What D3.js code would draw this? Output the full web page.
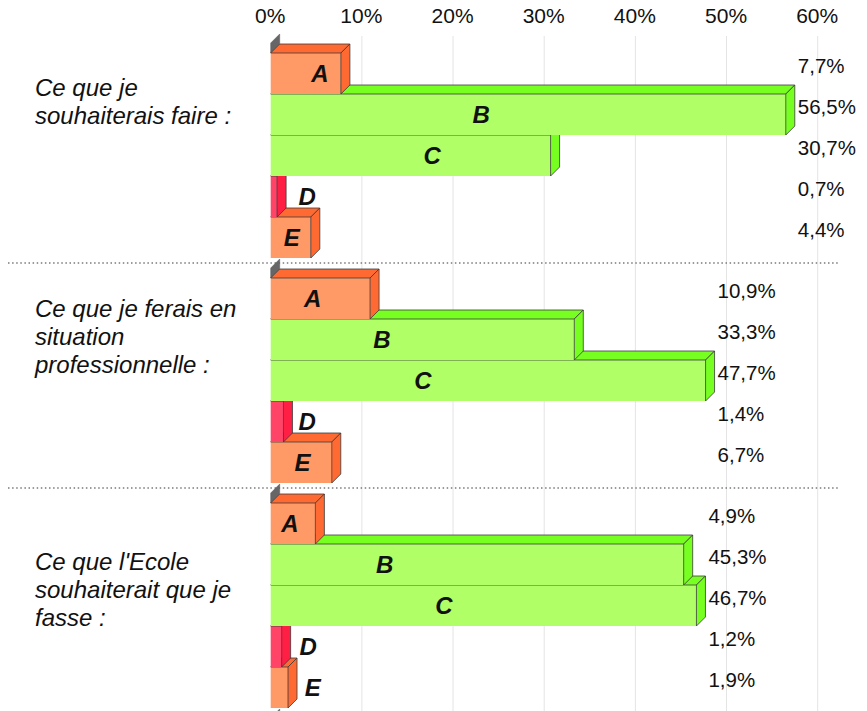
<!DOCTYPE html>
<html lang="fr">
<head>
<meta charset="UTF-8">
<script src="https://cdn.jsdelivr.net/npm/d3@7"></script>
<title>Réponses A-E</title>
<style>
  body { margin: 0; background: #fff; }
  svg text { font-family: "Liberation Sans", Arial, sans-serif; fill: #111; }
</style>
</head>
<body>
<svg id="chart" width="867" height="711"></svg>
<script>
// categories (one label per line)
var groups = [
    ["Ce que je", "souhaiterais faire :"],
    ["Ce que je ferais en", "situation", "professionnelle :"],
    ["Ce que l'Ecole", "souhaiterait que je", "fasse :"]
];
var series = ["A", "B", "C", "D", "E"];
// values in %, one array per answer, one entry per group
var valA = [7.7, 10.9, 4.9];
var valB = [56.5, 33.3, 45.3];
var valC = [30.7, 47.7, 46.7];
var valD = [0.7, 1.4, 1.2];
var valE = [4.4, 6.7, 1.9];
// where the letter sits on each bar, in % on the same axis
var letterA = [5.4, 4.6, 2.1];
var letterB = [23.1, 12.2, 12.5];
var letterC = [17.7, 16.7, 19.0];
var letterD = [4.0, 4.0, 4.1];
var letterE = [2.3, 3.5, 4.6];
var ticks = [0, 10, 20, 30, 40, 50, 60];

var values = [valA, valB, valC, valD, valE];
var letters = [letterA, letterB, letterC, letterD, letterE];
var fmt = function(v) { return String(v.toFixed(1)).replace(".", ",") + "%"; };

var colors = {
    A: {front: "#ff9966", dark: "#ff6a33"},
    B: {front: "#b0ff66", dark: "#77ff22"},
    C: {front: "#b0ff66", dark: "#77ff22"},
    D: {front: "#ff4468", dark: "#ff1f44"},
    E: {front: "#ff9966", dark: "#ff6a33"}
};

var svg = d3.select("#chart");
var W = 867, H = 711;
var dx = 9, dy = 9;   // 3d depth

var x = d3.scaleLinear().domain([0, 60]).range([270.7, 817.7]);
var gy = d3.scaleBand().domain(d3.range(groups.length)).range([53, 53 + 225 * groups.length]);
var by = d3.scaleBand().domain(series).range([0, 205]);
var labelDy = [42.5, 38.5, 67];

// vertical grid
svg.append("g").selectAll("line")
    .data(ticks.slice(1))
    .enter().append("line")
    .attr("x1", function(d) { return x(d); })
    .attr("x2", function(d) { return x(d); })
    .attr("y1", 36).attr("y2", H)
    .attr("stroke", "#e4e4e4").attr("stroke-width", 1);

// top axis labels
var axis = d3.axisTop(x).tickValues(ticks).tickSize(0).tickFormat(function(d) { return d + "%"; });
svg.append("g")
    .attr("transform", "translate(-1,26)")
    .call(axis)
    .call(function(g) {
        g.select(".domain").remove();
        g.selectAll("text").attr("font-size", 21).attr("fill", "#111")
            .style("font-family", "'Liberation Sans', Arial, sans-serif");
    });

// dotted separators between groups
svg.append("g").selectAll("line")
    .data(d3.range(1, groups.length))
    .enter().append("line")
    .attr("x1", 8).attr("x2", 838)
    .attr("y1", function(g) { return gy(g) - 15; })
    .attr("y2", function(g) { return gy(g) - 15; })
    .attr("stroke", "#7a7a7a").attr("stroke-width", 1.5)
    .attr("stroke-dasharray", "1.5,2.6");

// grey wall stubs above each group
svg.append("g").selectAll("path")
    .data(d3.range(groups.length + 1))
    .enter().append("path")
    .attr("d", function(g) {
        var t = 53 + 225 * g, x0 = x(0);
        return "M" + x0 + "," + t + "L" + x0 + "," + (t - 10) +
            "L" + (x0 + dx) + "," + (t - 10 - dy) + "L" + (x0 + dx) + "," + (t - dy) + "Z";
    })
    .attr("fill", "#666").attr("stroke", "#555").attr("stroke-width", 0.5);

// bars, drawn from E up to A so upper fronts cover lower top faces
var bars = [];
groups.forEach(function(lab, g) {
    series.forEach(function(s, i) {
        bars.push({g: g, s: s, v: values[i][g], at: letters[i][g]});
    });
});
bars.sort(function(a, b) {
    return a.g - b.g || series.indexOf(b.s) - series.indexOf(a.s);
});

var barG = svg.append("g").selectAll("g")
    .data(bars)
    .enter().append("g");

barG.each(function(d) {
    var el = d3.select(this);
    var x0 = x(0), x1 = x(d.v);
    var t = gy(d.g) + by(d.s), h = by.bandwidth();
    var c = colors[d.s];
    el.append("rect")
        .attr("x", x0).attr("y", t)
        .attr("width", x1 - x0).attr("height", h)
        .attr("fill", c.front);
    el.append("path")
        .attr("d", "M" + x0 + "," + t + "L" + (x0 + dx) + "," + (t - dy) +
            "L" + (x1 + dx) + "," + (t - dy) + "L" + x1 + "," + t + "Z")
        .attr("fill", c.dark).attr("stroke", "#3a3a3a").attr("stroke-width", 0.8);
    el.append("path")
        .attr("d", "M" + x1 + "," + t + "L" + (x1 + dx) + "," + (t - dy) +
            "L" + (x1 + dx) + "," + (t + h - dy) + "L" + x1 + "," + (t + h) + "Z")
        .attr("fill", c.dark).attr("stroke", "#3a3a3a").attr("stroke-width", 0.8);
});

// letters on the bars
svg.append("g").selectAll("text")
    .data(bars)
    .enter().append("text")
    .attr("x", function(d) { return x(d.at); })
    .attr("y", function(d) { return gy(d.g) + by(d.s) + by.bandwidth() / 2; })
    .attr("dy", "0.36em")
    .attr("text-anchor", "middle")
    .attr("font-size", 24).attr("font-weight", "bold").attr("font-style", "italic")
    .text(function(d) { return d.s; });

// value labels, lined up right of the longest bar in each group
svg.append("g").selectAll("text")
    .data(bars)
    .enter().append("text")
    .attr("x", function(d) {
        var m = d3.max(values, function(v) { return v[d.g]; });
        return x(m) + dx + 3;
    })
    .attr("y", function(d) { return gy(d.g) + by(d.s) + by.bandwidth() / 2 - 7.5; })
    .attr("dy", "0.36em")
    .attr("font-size", 20.5)
    .text(function(d) { return fmt(d.v); });

// group labels
var lab = svg.append("g").selectAll("text")
    .data(groups)
    .enter().append("text")
    .attr("x", 35)
    .attr("y", function(d, g) { return gy(g) + labelDy[g]; })
    .attr("font-size", 24).attr("font-style", "italic");
lab.selectAll("tspan")
    .data(function(d) { return d; })
    .enter().append("tspan")
    .attr("x", 35)
    .attr("dy", function(d, i) { return i ? 28 : 0; })
    .text(function(d) { return d; });
</script>
</body>
</html>
